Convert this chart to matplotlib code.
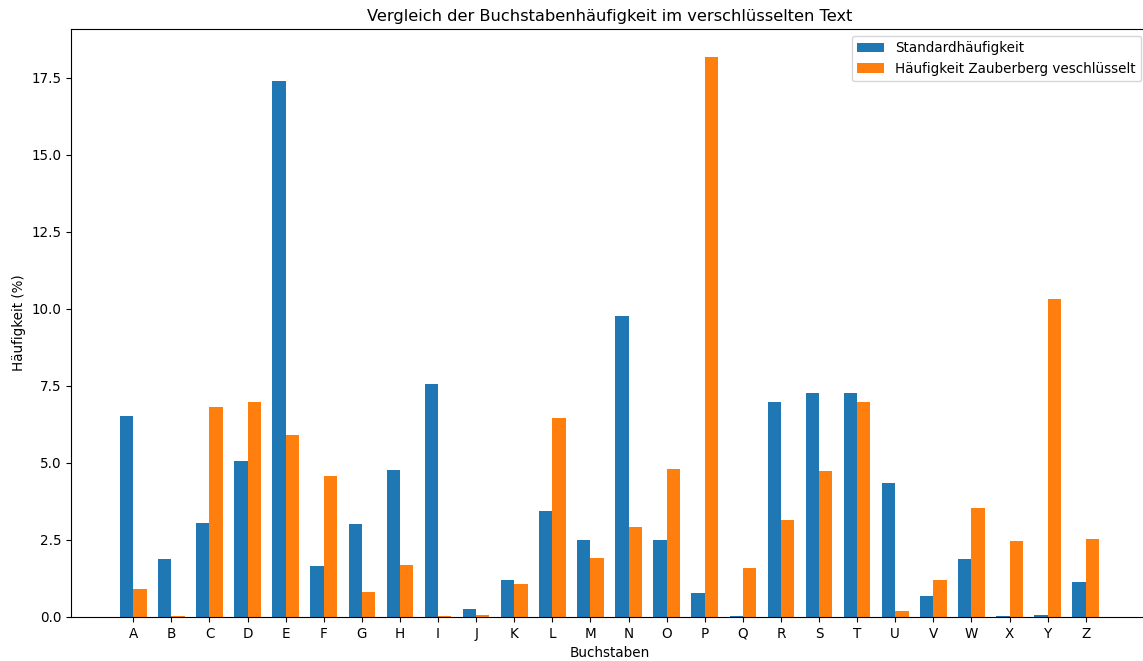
import matplotlib
matplotlib.use("Agg")
import matplotlib.pyplot as plt
import numpy as np

letters = list("ABCDEFGHIJKLMNOPQRSTUVWXYZ")
standard = [6.53, 1.87, 3.05, 5.06, 17.40, 1.66, 3.02, 4.77, 7.56, 0.26, 1.20, 3.44, 2.51,
            9.77, 2.51, 0.78, 0.02, 6.99, 7.27, 7.27, 4.35, 0.68, 1.88, 0.03, 0.05, 1.13]
zauberberg = [0.90, 0.03, 6.81, 6.99, 5.89, 4.59, 0.81, 1.69, 0.03, 0.08, 1.08, 6.46, 1.92,
              2.92, 4.81, 18.17, 1.59, 3.15, 4.75, 6.96, 0.20, 1.19, 3.55, 2.47, 10.33, 2.53]

s = 0.972
plt.rcParams["font.size"] = 10 * s

fig = plt.figure(figsize=(11.43, 6.61), dpi=100)
ax = fig.add_axes([71/1143, 44/661, 1077/1143, (617-29)/661])

x = np.arange(len(letters))
w = 0.35
ax.bar(x - w/2, standard, w, label="Standardhäufigkeit", color="#1f77b4")
ax.bar(x + w/2, zauberberg, w, label="Häufigkeit Zauberberg veschlüsselt", color="#ff7f0e")
ax.set_xticks(x)
ax.set_xticklabels(letters)
ax.set_xlabel("Buchstaben")
ax.set_ylabel("Häufigkeit (%)")
ax.set_title("Vergleich der Buchstabenhäufigkeit im verschlüsselten Text", fontsize=12 * s)
ax.legend(loc="upper right")
fig.savefig("out.png", dpi=100)
